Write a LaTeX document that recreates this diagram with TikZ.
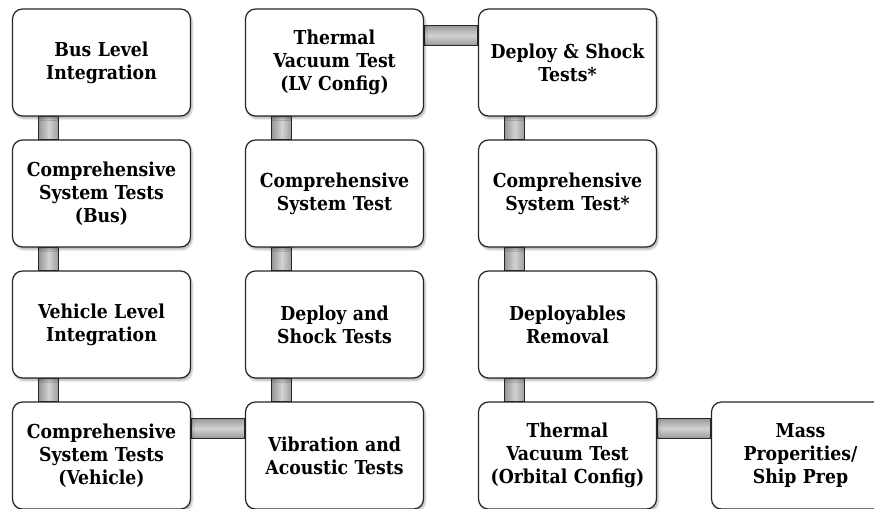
\documentclass[tikz,border=0pt]{standalone}
\usepackage{fontspec}
\setmainfont{DejaVu Serif Condensed}
\usetikzlibrary{shadows.blur, backgrounds}
\tikzstyle{wblock} = [rectangle, draw=black!85, line width=1.2pt, fill=white, text width=172pt, align=center, rounded corners=10pt, minimum width=178pt, minimum height=107pt, inner sep=2pt, blur shadow={shadow xshift=1.5pt, shadow yshift=-2.5pt, shadow blur steps=6, shadow opacity=30}, font=\fontsize{19.2}{23}\selectfont\bfseries]
\tikzstyle{vbar} = [draw=black!85, line width=1pt, left color=gray!80, right color=gray!80, middle color=gray!35]
\tikzstyle{hbar} = [draw=black!85, line width=1pt, top color=gray!80, bottom color=gray!80, middle color=gray!35]

\begin{document}
\begin{tikzpicture}[node distance=131pt, x=1pt, y=1pt]
    \useasboundingbox (0,0) rectangle (874,-508);
    % Place nodes
    \node [wblock] at (101.5,-62.5) (bus) {Bus Level\\Integration};
    \node [wblock, below of=bus] (cstbus) {Comprehensive\\System Tests\\(Bus)};
    \node [wblock, below of=cstbus] (vehicle) {Vehicle Level\\Integration};
    \node [wblock, below of=vehicle] (cstveh) {Comprehensive\\System Tests\\(Vehicle)};
    \node [wblock, right of=cstveh, node distance=233pt] (vibe) {Vibration and\\Acoustic Tests};
    \node [wblock, above of=vibe] (deploy) {Deploy and\\Shock Tests};
    \node [wblock, above of=deploy] (cst) {Comprehensive\\System Test};
    \node [wblock, above of=cst] (tvaclv) {Thermal\\Vacuum Test\\(LV Config)};
    \node [wblock, right of=tvaclv, node distance=233pt] (shock) {Deploy \& Shock\\Tests*};
    \node [wblock, below of=shock] (cstfinal) {Comprehensive\\System Test*};
    \node [wblock, below of=cstfinal] (removal) {Deployables\\Removal};
    \node [wblock, below of=removal] (tvacorb) {Thermal\\Vacuum Test\\(Orbital Config)};
    \node [wblock, right of=tvacorb, node distance=233pt] (mass) {Mass\\Properities/\\Ship Prep};
    % Draw edges
    \begin{scope}[on background layer]
    \path [vbar] ([xshift=27pt]bus.south west) rectangle ([xshift=47pt]cstbus.north west);
    \path [vbar] ([xshift=27pt]cstbus.south west) rectangle ([xshift=47pt]vehicle.north west);
    \path [vbar] ([xshift=27pt]vehicle.south west) rectangle ([xshift=47pt]cstveh.north west);
    \path [hbar] ([yshift=-17pt]cstveh.north east) rectangle ([yshift=-37pt]vibe.north west);
    \path [vbar] ([xshift=27pt]deploy.south west) rectangle ([xshift=47pt]vibe.north west);
    \path [vbar] ([xshift=27pt]cst.south west) rectangle ([xshift=47pt]deploy.north west);
    \path [vbar] ([xshift=27pt]tvaclv.south west) rectangle ([xshift=47pt]cst.north west);
    \path [hbar] ([yshift=-17pt]tvaclv.north east) rectangle ([yshift=-37pt]shock.north west);
    \path [vbar] ([xshift=27pt]shock.south west) rectangle ([xshift=47pt]cstfinal.north west);
    \path [vbar] ([xshift=27pt]cstfinal.south west) rectangle ([xshift=47pt]removal.north west);
    \path [vbar] ([xshift=27pt]removal.south west) rectangle ([xshift=47pt]tvacorb.north west);
    \path [hbar] ([yshift=-17pt]tvacorb.north east) rectangle ([yshift=-37pt]mass.north west);
    \end{scope}
\end{tikzpicture}
\end{document}
